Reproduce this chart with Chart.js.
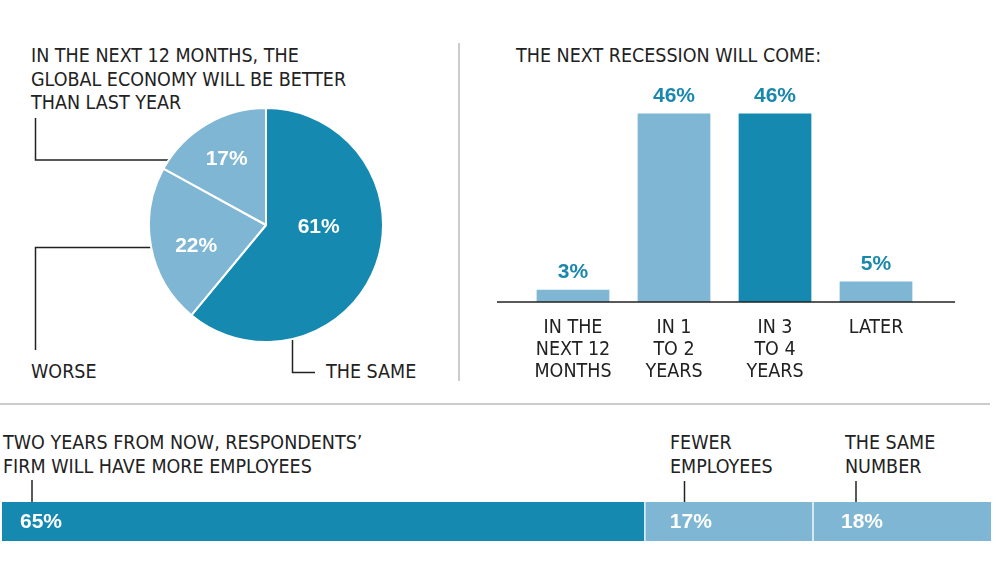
<!DOCTYPE html>
<html><head><meta charset="utf-8">
<script src="https://cdn.jsdelivr.net/npm/chart.js@4.4.0/dist/chart.umd.min.js"></script>
<style>
body{margin:0;background:#fff;width:1000px;height:586px;position:relative;overflow:hidden;font-family:'Liberation Sans Narrow','DejaVu Sans Condensed',sans-serif;color:#222;}
.t{position:absolute;font-size:19.5px;line-height:23.5px;white-space:nowrap;}
.box{position:absolute;}
svg{position:absolute;left:0;top:0;}
</style></head><body>

<svg width="1000" height="586">
  <g stroke="#cccccc" stroke-width="2" fill="none">
    <line x1="459" y1="43" x2="459" y2="381"/>
    <line x1="0" y1="404" x2="990" y2="404"/>
  </g>
  <g stroke="#222" stroke-width="1.5" fill="none">
    <polyline points="35.5,118 35.5,160 181,160"/>
    <polyline points="161,247.5 35.5,247.5 35.5,350"/>
    <polyline points="292.5,313 292.5,372.5 315,372.5"/>
    <line x1="32" y1="480" x2="32" y2="502"/>
    <line x1="684.5" y1="481" x2="684.5" y2="502"/>
    <line x1="856" y1="481" x2="856" y2="502"/>
  </g>
</svg>

<div class="t" style="left:31px;top:44px;">IN THE NEXT 12 MONTHS, THE<br>GLOBAL ECONOMY WILL BE BETTER<br>THAN LAST YEAR</div>
<div class="t" style="left:31px;top:360px;">WORSE</div>
<div class="t" style="left:326px;top:360px;">THE SAME</div>
<div class="t" style="left:516px;top:44px;">THE NEXT RECESSION WILL COME:</div>
<div class="t" style="left:3px;top:431px;line-height:24px;">TWO YEARS FROM NOW, RESPONDENTS’<br>FIRM WILL HAVE MORE EMPLOYEES</div>
<div class="t" style="left:670px;top:431px;line-height:24px;">FEWER<br>EMPLOYEES</div>
<div class="t" style="left:845px;top:431px;line-height:24px;">THE SAME<br>NUMBER</div>

<div class="box" style="left:148px;top:107px;width:236px;height:236px;"><canvas id="pie"></canvas></div>
<div class="box" style="left:492px;top:60px;width:468px;height:322px;"><canvas id="bars"></canvas></div>
<div class="box" style="left:2px;top:502px;width:989px;height:39px;"><canvas id="stack"></canvas></div>

<script>
// ---- data ----
const pieCategories = ['THE SAME', 'WORSE', 'BETTER'];
const pieValues = [61, 22, 17];

const recessionCategories = [['IN THE', 'NEXT 12', 'MONTHS'], ['IN 1', 'TO 2', 'YEARS'], ['IN 3', 'TO 4', 'YEARS'], ['LATER']];
const recessionValues = [3, 46, 46, 5];

const employeeCategories = ['MORE EMPLOYEES', 'FEWER EMPLOYEES', 'THE SAME NUMBER'];
const employeeValues = [65, 17, 18];

// ---- styles ----
const DARK = '#1589B0';
const LIGHT = '#7EB6D3';
const LABEL_TEAL = '#1A87AD';
const TEXT = '#222222';
const NARROW = "'Liberation Sans Narrow', 'DejaVu Sans Condensed', sans-serif";
const NUMFONT = "bold 21px 'Liberation Sans', Arial, sans-serif";
const pieColors = [DARK, LIGHT, LIGHT];
const pieLabelRadius = [0.45, 0.62, 0.66];
const pieLabelAngleShift = [-19, -5, 0];
const barColors = [LIGHT, LIGHT, DARK, LIGHT];
const stackColors = [DARK, LIGHT, LIGHT];
const stackLabelOffset = [18, 25, 28];

Chart.defaults.animation = false;
Chart.defaults.events = [];
Chart.defaults.plugins.legend.display = false;
Chart.defaults.plugins.tooltip.enabled = false;

// ---- pie ----
const pieLabels = {
  id: 'pieLabels',
  afterDatasetsDraw(chart) {
    const ctx = chart.ctx;
    const meta = chart.getDatasetMeta(0);
    ctx.save();
    ctx.font = NUMFONT;
    ctx.fillStyle = '#fff';
    ctx.textAlign = 'center';
    ctx.textBaseline = 'middle';
    meta.data.forEach((arc, i) => {
      const p = arc.getProps(['x', 'y', 'startAngle', 'endAngle', 'outerRadius'], true);
      const mid = (p.startAngle + p.endAngle) / 2 + pieLabelAngleShift[i] * Math.PI / 180;
      const r = p.outerRadius * pieLabelRadius[i];
      ctx.fillText(pieValues[i] + '%', p.x + r * Math.cos(mid), p.y + r * Math.sin(mid) + 1);
    });
    ctx.restore();
  }
};
new Chart(document.getElementById('pie'), {
  type: 'pie',
  data: { labels: pieCategories, datasets: [{ data: pieValues, backgroundColor: pieColors, borderColor: '#fff', borderWidth: 2, hoverOffset: 0 }] },
  options: { responsive: true, maintainAspectRatio: false, layout: { padding: 0 } },
  plugins: [pieLabels]
});

// ---- recession bars ----
const barExtras = {
  id: 'barExtras',
  afterDatasetsDraw(chart) {
    const ctx = chart.ctx;
    const a = chart.chartArea;
    ctx.save();
    ctx.strokeStyle = TEXT;
    ctx.lineWidth = 1.5;
    ctx.beginPath();
    ctx.moveTo(a.left - 25.5, a.bottom);
    ctx.lineTo(a.right + 28.5, a.bottom);
    ctx.stroke();
    ctx.font = NUMFONT;
    ctx.fillStyle = LABEL_TEAL;
    ctx.textAlign = 'center';
    ctx.textBaseline = 'middle';
    chart.getDatasetMeta(0).data.forEach((el, i) => {
      ctx.fillText(recessionValues[i] + '%', el.x, el.y - 17);
    });
    ctx.restore();
  }
};
new Chart(document.getElementById('bars'), {
  type: 'bar',
  data: { labels: recessionCategories, datasets: [{ data: recessionValues, backgroundColor: barColors, barPercentage: 0.72, categoryPercentage: 1 }] },
  options: {
    responsive: true, maintainAspectRatio: false,
    layout: { padding: { left: 30.5, right: 33.5, top: 37, bottom: 0 } },
    scales: {
      y: { display: false, min: 0, max: 50 },
      x: {
        grid: { display: false, drawTicks: false },
        border: { display: false },
        ticks: { color: TEXT, padding: 15, font: { family: NARROW, size: 19.5, lineHeight: '22px' }, maxRotation: 0, autoSkip: false },
        afterFit(scale) { scale.height = 80; }
      }
    }
  },
  plugins: [barExtras]
});

// ---- stacked employees bar ----
const stackLabels = {
  id: 'stackLabels',
  afterDatasetsDraw(chart) {
    const ctx = chart.ctx;
    ctx.save();
    ctx.font = NUMFONT;
    ctx.fillStyle = '#fff';
    ctx.textAlign = 'left';
    ctx.textBaseline = 'middle';
    chart.data.datasets.forEach((ds, i) => {
      const el = chart.getDatasetMeta(i).data[0];
      const start = Math.min(el.base, el.x);
      ctx.fillText(employeeValues[i] + '%', start + stackLabelOffset[i], el.y + 1);
    });
    ctx.restore();
  }
};
new Chart(document.getElementById('stack'), {
  type: 'bar',
  data: {
    labels: ['EMPLOYEES'],
    datasets: employeeCategories.map((c, i) => ({
      label: c, data: [employeeValues[i]], backgroundColor: stackColors[i],
      borderColor: '#fff', borderWidth: { left: i > 0 ? 1 : 0, right: i < employeeCategories.length - 1 ? 1 : 0, top: 0, bottom: 0 },
      borderSkipped: false, barPercentage: 1, categoryPercentage: 1
    }))
  },
  options: {
    indexAxis: 'y', responsive: true, maintainAspectRatio: false,
    layout: { padding: 0 },
    scales: { x: { display: false, stacked: true, min: 0, max: 100 }, y: { display: false, stacked: true } }
  },
  plugins: [stackLabels]
});
</script>
</body></html>
